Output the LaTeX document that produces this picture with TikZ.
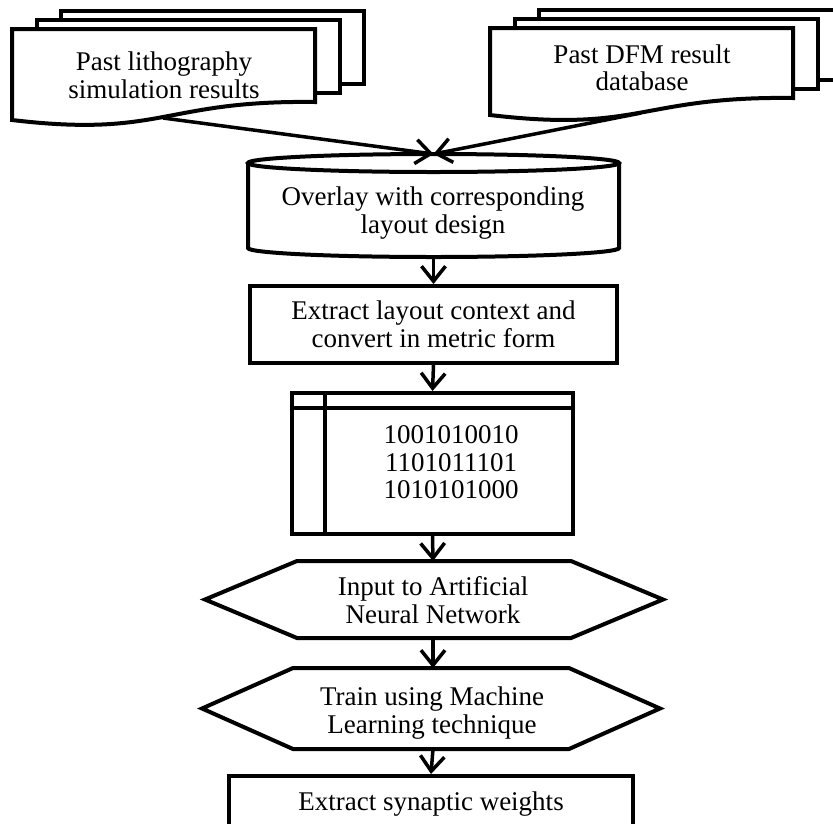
\documentclass[tikz,border=0pt]{standalone}
\usepackage{fontspec}
\setmainfont{Liberation Serif}
\usetikzlibrary{arrows.meta,positioning,calc}

\begin{document}
\begin{tikzpicture}[x=1pt,y=-1pt,>={Straight Barb[length=15pt,width=24pt]},
lbl/.style={align=center, inner sep=0pt, font=\fontsize{27}{27.5}\selectfont},
blk/.style={draw=black, line width=4pt, inner sep=0pt, align=center, font=\fontsize{27}{27.5}\selectfont},
shp/.style={draw=black, line width=4pt, line join=miter},
pth/.style={line width=3.5pt, ->}
]
\useasboundingbox (0,0) rectangle (833,823);
\clip (0,0) rectangle (833,823);
% stack of three pages: left x, top y, right bottom y, left bottom y
\def\mdoc(#1:#2:#3:#4){
\draw[shp] ({#1+49},{#2-9}) -- ({#1+49},{#2-18}) -- ({#1+352},{#2-18}) -- ({#1+352},{#3-18}) -- ({#1+328},{#3-18});
\draw[shp] ({#1+25},{#2}) -- ({#1+25},{#2-9}) -- ({#1+328},{#2-9}) -- ({#1+328},{#3-9}) -- ({#1+303},{#3-9});
\draw[shp] (#1,#2) -- ({#1+303},#2) -- ({#1+303},#3) .. controls ({#1+151},{#3-2}) and ({#1+151},{#4+18}) .. (#1,#4) -- cycle;
}
% hexagon: left tip x, right tip x, top y, bottom y, depth
\def\hexa(#1:#2:#3:#4:#5){
\draw[shp] (#1,{(#3+#4)/2}) -- ({#1+#5},#3) -- ({#2-#5},#3) -- (#2,{(#3+#4)/2}) -- ({#2-#5},#4) -- ({#1+#5},#4) -- cycle;
}
\mdoc(12:29:102:120);
\mdoc(490:28:98:115);
\coordinate (litb) at (163,118);
\coordinate (dfmb) at (641,113);
\node[lbl] (lit) at (164,75.5) {Past lithography\\simulation results};
\node[lbl] (dfm) at (642,68) {Past DFM result\\database};
% the stored data drum
\draw[shp] (433.5,163) ellipse [x radius=185.5, y radius=9];
\draw[shp] (248,163) -- (248,248) arc[start angle=180, end angle=0, x radius=185.5, y radius=9] -- (619,163);
\coordinate (ovlt) at (433.5,154);
\coordinate (ovlb) at (433.5,257);
\node[lbl] (ovl) at (433,213) {Overlay with corresponding\\layout design};
\node[blk, minimum width=367pt, minimum height=77pt] (ext) at (433.5,324.5) {Extract layout context and\\convert in metric form};
% internal storage
\node[blk, minimum width=281pt, minimum height=141pt] (bits) at (432.5,463.5) {};
\draw[shp] ([yshift=-17pt]bits.north west) -- ([yshift=-17pt]bits.north east);
\draw[shp] ([xshift=35pt]bits.north west) -- ([xshift=35pt]bits.south west);
\node[lbl] (bitv) at (451,462.5) {1001010010\\1101011101\\1010101000};
\hexa(205:663:561:638:92);
\hexa(202:660:668:749:91);
\coordinate (inpt) at (433,561);
\coordinate (inpb) at (433,638);
\coordinate (trnt) at (433,668);
\coordinate (trnb) at (433,749);
\node[lbl] (inp) at (433,600) {Input to Artificial\\Neural Network};
\node[lbl] (trn) at (432,713) {Train using Machine\\Learning technique};
\node[blk, minimum width=404pt, minimum height=57pt] (syn) at (431,804.5) {Extract synaptic weights};
% connectors
\draw[pth] (litb) -- (ovlt);
\draw[pth] (dfmb) -- (ovlt);
\draw[pth] (ovlb) -- (ext.north);
\draw[pth] (ext.south) -- (bits.north);
\draw[pth] (bits.south) -- (inpt);
\draw[pth] (inpb) -- (trnt);
\draw[pth] (trnb) -- (syn.north);
\end{tikzpicture}
\end{document}
